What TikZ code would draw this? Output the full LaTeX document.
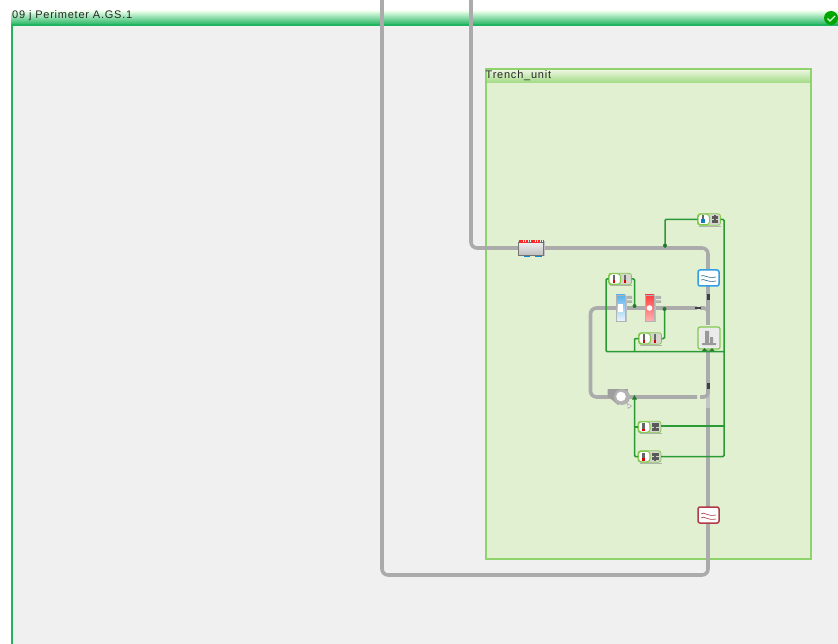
\documentclass[tikz,border=0pt]{standalone}
\usepackage{fontspec}
\setmainfont{Liberation Sans}
\newfontfamily\titlefont[LetterSpace=7]{Liberation Sans}
\definecolor{panel}{HTML}{F0F0F0}
\definecolor{framegreen}{HTML}{1FB45F}
\definecolor{unitgreen}{HTML}{8FD46A}
\definecolor{unitfill}{HTML}{E2F0D2}
\definecolor{pipegrey}{HTML}{ABABAB}
\definecolor{sig}{HTML}{2A9A35}
\definecolor{ctlgreen}{HTML}{84C850}
\definecolor{ctlgrey}{HTML}{D6D6CE}
\definecolor{hxblueC}{HTML}{2F9FE6}
\definecolor{hxredC}{HTML}{B23A48}
\tikzset{
  pipe/.style={draw=pipegrey,line width=3.6pt,rounded corners=6pt},
  signal/.style={draw=sig,line width=1.5pt,rounded corners=1pt},
  blob/.style={fill=sig!80!black},
  ctlbox/.style={draw=ctlgreen,line width=.8pt,fill=ctlgrey,rounded corners=2.5pt,minimum width=23pt,minimum height=11.5pt,inner sep=0pt,outer sep=0pt},
  iconbox/.style={rounded corners=2pt,fill=white,line width=1.5pt,minimum width=21pt,minimum height=16pt,inner sep=0pt,outer sep=0pt},
  vessel/.style={draw=black!30,line width=.8pt,minimum width=9pt,minimum height=26pt,inner sep=0pt,outer sep=0pt},
  title/.style={font=\titlefont\fontsize{11}{12}\selectfont,anchor=west,inner sep=0pt,text=black!85},
}
% name, x, y, second glyph kind: 0 thermometer, 1 block
\newcommand{\ctlnode}[4]{%
  \fill[black!30] (#2-10,#3+6.3) rectangle (#2+12,#3+7);
  \node[ctlbox] (#1) at (#2,#3) {};
  \draw[white,fill=white,draw=ctlgreen,line width=1.1pt,rounded corners=3pt] (#2-11,#3-5.3) rectangle (#2+.5,#3+5.3);
  \fill[black!60] (#2-7.3,#3-4) rectangle (#2-4.7,#3+2);
  \fill[red!85!black] (#2-7.3,#3+1.5) rectangle (#2-4.7,#3+4);
  \ifnum#4=0
    \fill[black!60] (#2+3.7,#3-4) rectangle (#2+6.3,#3+2);
    \fill[red!85!black] (#2+3.7,#3+1.5) rectangle (#2+6.3,#3+4);
  \else
    \fill[black!65] (#2+2.5,#3-3.7) rectangle (#2+9,#3-.5);
    \fill[black!65] (#2+2.5,#3+.5) rectangle (#2+9,#3+3.7);
    \fill[black!65] (#2+4.7,#3-4) rectangle (#2+6.5,#3+4);
  \fi
}
\begin{document}
\begin{tikzpicture}[x=1pt,y=-1pt]
\useasboundingbox (0,0) rectangle (838,644);
\fill[white] (0,0) rectangle (838,644);
% outer panel
\fill[panel] (11,25) rectangle (838,644);
\shade[top color=green!8!white,bottom color=framegreen] (11,11) rectangle (838,25);
\draw[framegreen,line width=2pt] (12,25) -- (12,644);
\draw[framegreen,line width=1.2pt] (11,25) -- (838,25);
\node[title] (outertitle) at (12,15.5) {09 j Perimeter A.GS.1};
\node[circle,fill=green!65!black,minimum size=14pt,inner sep=0pt] (ok) at (831,18) {};
\draw[white!85!green,line width=1.2pt] (827.5,18.5) -- (830,21) -- (835,16);
% trench unit
\fill[unitfill] (485.5,69.5) rectangle (811,559);
\shade[top color=unitfill!60!white,bottom color=unitgreen!85!white] (485.5,69.5) rectangle (811,83);
\node[draw=unitgreen,line width=2pt,minimum width=325.5pt,minimum height=489.5pt,inner sep=0pt,outer sep=0pt,anchor=north west] (trench) at (485.5,69.5) {};
\node[title] (trenchtitle) at (485.5,75.5) {Trench\_unit};
% anchors for pipes
\coordinate (topA) at (382,0);
\coordinate (topB) at (471,0);
\coordinate (stubA) at (708,393);
\coordinate (stubB) at (708,408);
\coordinate (stubC) at (708,325);
\coordinate (endU) at (697,308);
\coordinate (endL) at (697,397);
% pipes
\draw[pipe] (topA) -- (382,575) -- (708,575) -- (stubB);
\draw[pipe,draw=pipegrey!70!white] (stubB) -- (stubA);
\draw[pipe] (topB) -- (471,248) -- (708,248) -- (stubC);
\draw[pipe] (endU) -- (590.5,308) -- (590.5,397) -- (endL);
\draw[pipe,rounded corners=4pt] (700,308) -- (708,308) -- (708,320);
\draw[pipe,rounded corners=4pt] (700,397) -- (708,397) -- (708,345);
% equipment
\fill[black!25] (518,241.5) rectangle (545,256);
\node[draw=black!55,line width=.8pt,top color=black!6,bottom color=black!25,inner sep=0pt,outer sep=0pt,minimum width=25pt,minimum height=13pt] (heater) at (531,248.5) {};
\draw[red!85!white,line width=2.4pt,dash pattern=on 1.6pt off .8pt] (519,241.5) -- (544,241.5);
\draw[cyan!70!blue,line width=1pt] (524,257) -- (530,257) (535,257) -- (542,257);
\node[iconbox,draw=hxblueC] (hxblue) at (708.5,278) {};
\draw[hxblueC!60!black,line width=.6pt] (701,276) .. controls (704,274) and (707,279) .. (716,277) (701,280) .. controls (704,278) and (707,283) .. (716,281);
\node[iconbox,draw=hxredC] (hxred) at (708.5,515) {};
\draw[hxredC,line width=.6pt] (701,514) .. controls (704,511) and (707,517) .. (716,515) (701,518) .. controls (704,515) and (707,521) .. (716,519);
\node[draw=ctlgreen,fill=white!92!black,line width=1.2pt,rounded corners=2pt,minimum width=22pt,minimum height=22pt,inner sep=0pt,outer sep=0pt] (unit) at (709,338) {};
\fill[black!40] (705,331) rectangle (709,343) (702,343) rectangle (716,345) (710,337) rectangle (713,343);
\fill[black!25] (617,296) rectangle (626.5,322);
\node[vessel,top color=hxblueC!80!white,bottom color=hxblueC!10!white] (cooler) at (620.5,308) {};
\fill[white] (618,304) rectangle (623,312);
\fill[black!25] (646,296) rectangle (655.5,322);
\node[vessel,top color=red!75!white,bottom color=red!30!white] (warmer) at (649.5,308) {};
\fill[white] (649.5,308) circle (2.8pt);
\fill[black!30] (627,296) rectangle (632,299) (627,300.5) rectangle (632,303) (656,296) rectangle (661,299) (656,300.5) rectangle (661,303);
% pipe marks
\fill[black!75] (706.5,383) rectangle (709.5,389);
\fill[black!75] (706.5,294) rectangle (709.5,300);
\fill[black!75] (695,306.7) rectangle (700.5,309.5);
% fan
\fill[black!38] (607.5,389) -- (628,389) -- (627,398) -- (618,405) -- (607.5,396) -- cycle;
\fill[black!30] (622,397) circle (8pt);
\fill[white] (621,396.5) circle (4.8pt);
\fill[black!30] (627,403) -- (632,406) -- (628,409) -- cycle;
\fill[white] (629,406) circle (1.2pt);
% controllers
\ctlnode{ctop}{709}{219.5}{1}
\fill[cyan!60!blue] (701,219) rectangle (705,223);
\ctlnode{ctemp}{620}{279}{0}
\ctlnode{cmid}{650}{338.5}{0}
\ctlnode{cfan}{649.5}{427}{1}
\ctlnode{cbot}{649.5}{456.5}{1}
% signals
\coordinate (busL) at (606,351.5);
\coordinate (busR) at (724,351.5);
\coordinate (tapH) at (665,248);
\coordinate (tapW) at (664.5,308);
\coordinate (tapC) at (634.5,308);
\coordinate (tapF) at (634.5,397);
\draw[signal] (ctop.west) -| (tapH);
\fill[blob] (665,245.5) circle (2pt);
\draw[signal] (ctop.east) -| (724,300) |- (cbot.east);
\draw[signal] ([yshift=1pt]cfan.east) -- (724,426);
\draw[signal] (ctemp.west) -| (busL) -- (busR);
\draw[signal] (ctemp.east) -| (tapC);
\fill[blob] (634.5,306) circle (2pt);
\draw[signal] (cmid.west) -| (634.5,351.5);
\draw[signal] (cmid.east) -| (tapW);
\fill[blob] (664.5,309) circle (2pt);
\draw[signal] (cbot.west) -| (tapF);
\draw[signal] (cfan.west) -- (634.5,427);
\fill[blob] (632,399.5) -- (637,399.5) -- (634.5,395) -- cycle;
\fill[blob] (702,351) -- (707,351) -- (704.5,348) -- cycle;
\fill[blob] (709.5,351) -- (714.5,351) -- (712,348) -- cycle;
\end{tikzpicture}
\end{document}
